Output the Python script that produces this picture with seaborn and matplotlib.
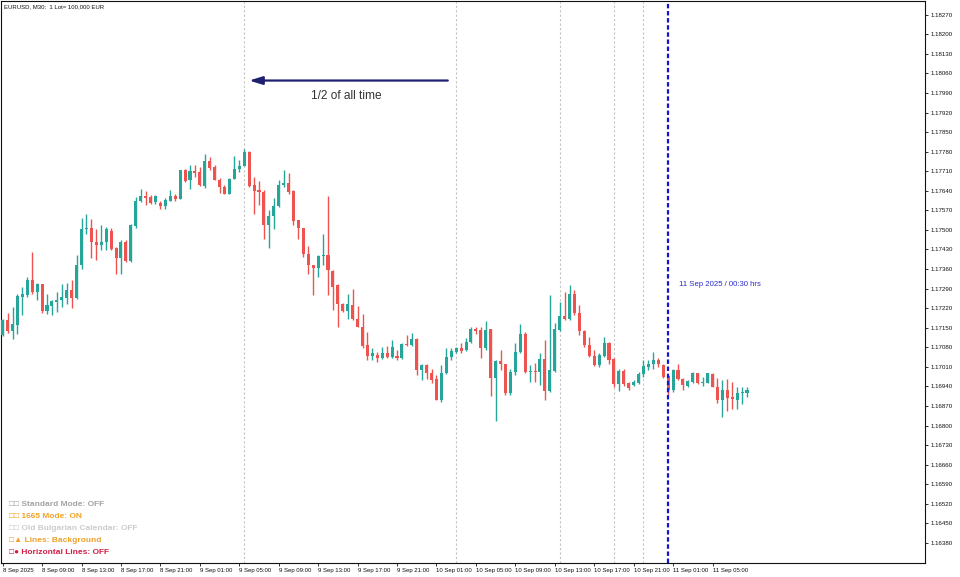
import matplotlib
matplotlib.use("Agg")
import matplotlib.pyplot as plt
import matplotlib.transforms as mtransforms
import numpy as np
import pandas as pd
import seaborn as sns

# EURUSD M30 candles, 8 Sep 05:00 -> 11 Sep 08:30
opens = [
    1.17123, 1.17179, 1.17139, 1.17161, 1.17260, 1.17266, 1.17320, 1.17278, 1.17305, 1.17209,
    1.17228, 1.17242, 1.17249, 1.17258, 1.17284, 1.17256, 1.17373, 1.17504, 1.17508, 1.17457,
    1.17445, 1.17457, 1.17496, 1.17437, 1.17398, 1.17457, 1.17389, 1.17514, 1.17603, 1.17620,
    1.17618, 1.17599, 1.17597, 1.17585, 1.17603, 1.17620, 1.17612, 1.17713, 1.17679, 1.17709,
    1.17707, 1.17657, 1.17746, 1.17725, 1.17679, 1.17653, 1.17629, 1.17683, 1.17719, 1.17728,
    1.17778, 1.17659, 1.17641, 1.17635, 1.17519, 1.17549, 1.17584, 1.17662, 1.17668, 1.17638,
    1.17534, 1.17507, 1.17413, 1.17375, 1.17364, 1.17407, 1.17412, 1.17353, 1.17302, 1.17236,
    1.17210, 1.17233, 1.17180, 1.17154, 1.17087, 1.17048, 1.17054, 1.17042, 1.17058, 1.17046,
    1.17049, 1.17042, 1.17091, 1.17087, 1.17111, 1.17000, 1.17016, 1.16989, 1.16965, 1.16893,
    1.16987, 1.17046, 1.17063, 1.17076, 1.17070, 1.17100, 1.17144, 1.17141, 1.17076, 1.17144,
    1.16969, 1.17030, 1.17019, 1.16915, 1.16990, 1.17063, 1.17127, 1.16990, 1.16996, 1.16990,
    1.17037, 1.16925, 1.16996, 1.17141, 1.17191, 1.17183, 1.17270, 1.17201, 1.17139, 1.17088,
    1.17049, 1.17016, 1.17050, 1.17097, 1.17037, 1.16948, 1.16996, 1.16952, 1.16945, 1.16952,
    1.16984, 1.17010, 1.17022, 1.17034, 1.17016, 1.16977, 1.16929, 1.17000, 1.16967, 1.16941,
    1.16957, 1.16987, 1.16951, 1.16952, 1.16984, 1.16939, 1.16891, 1.16929, 1.16901, 1.16893,
    1.16915, 1.16915,
]
highs = [
    1.17183, 1.17201, 1.17225, 1.17270, 1.17296, 1.17332, 1.17421, 1.17311, 1.17308, 1.17272,
    1.17251, 1.17278, 1.17305, 1.17311, 1.17322, 1.17411, 1.17541, 1.17556, 1.17539, 1.17504,
    1.17516, 1.17510, 1.17508, 1.17439, 1.17463, 1.17463, 1.17520, 1.17618, 1.17647, 1.17639,
    1.17624, 1.17624, 1.17603, 1.17615, 1.17644, 1.17629, 1.17715, 1.17719, 1.17733, 1.17734,
    1.17725, 1.17770, 1.17760, 1.17734, 1.17687, 1.17662, 1.17687, 1.17766, 1.17749, 1.17790,
    1.17782, 1.17691, 1.17675, 1.17641, 1.17572, 1.17614, 1.17679, 1.17715, 1.17705, 1.17641,
    1.17537, 1.17508, 1.17442, 1.17375, 1.17411, 1.17486, 1.17620, 1.17358, 1.17305, 1.17239,
    1.17272, 1.17290, 1.17227, 1.17198, 1.17136, 1.17076, 1.17064, 1.17082, 1.17084, 1.17105,
    1.17070, 1.17096, 1.17123, 1.17132, 1.17114, 1.17022, 1.17022, 1.17004, 1.16981, 1.17016,
    1.17076, 1.17076, 1.17082, 1.17094, 1.17112, 1.17153, 1.17153, 1.17153, 1.17175, 1.17147,
    1.17034, 1.17070, 1.17022, 1.17004, 1.17094, 1.17165, 1.17135, 1.17016, 1.17025, 1.17058,
    1.17106, 1.17266, 1.17168, 1.17243, 1.17278, 1.17302, 1.17284, 1.17231, 1.17141, 1.17117,
    1.17070, 1.17058, 1.17117, 1.17100, 1.17040, 1.17004, 1.17004, 1.16957, 1.16962, 1.16992,
    1.17034, 1.17034, 1.17063, 1.17040, 1.17022, 1.16981, 1.17004, 1.17020, 1.16972, 1.16962,
    1.16992, 1.16989, 1.16974, 1.16989, 1.16987, 1.16969, 1.16962, 1.16965, 1.16957, 1.16939,
    1.16939, 1.16937,
]
lows = [
    1.17120, 1.17132, 1.17108, 1.17129, 1.17195, 1.17260, 1.17270, 1.17251, 1.17201, 1.17198,
    1.17195, 1.17207, 1.17225, 1.17236, 1.17220, 1.17253, 1.17361, 1.17486, 1.17398, 1.17391,
    1.17427, 1.17429, 1.17427, 1.17344, 1.17344, 1.17385, 1.17385, 1.17508, 1.17600, 1.17588,
    1.17591, 1.17594, 1.17576, 1.17574, 1.17602, 1.17603, 1.17609, 1.17671, 1.17647, 1.17689,
    1.17657, 1.17651, 1.17713, 1.17677, 1.17632, 1.17627, 1.17627, 1.17681, 1.17707, 1.17727,
    1.17653, 1.17556, 1.17588, 1.17469, 1.17437, 1.17504, 1.17582, 1.17653, 1.17629, 1.17516,
    1.17469, 1.17403, 1.17344, 1.17266, 1.17332, 1.17373, 1.17266, 1.17215, 1.17153, 1.17208,
    1.17183, 1.17176, 1.17153, 1.17076, 1.17034, 1.17034, 1.17028, 1.17039, 1.17042, 1.17042,
    1.17034, 1.17039, 1.17085, 1.17084, 1.16980, 1.16962, 1.16965, 1.16951, 1.16891, 1.16885,
    1.16983, 1.17034, 1.17060, 1.17060, 1.17067, 1.17096, 1.17129, 1.17040, 1.17070, 1.16906,
    1.16817, 1.16998, 1.16909, 1.16909, 1.16981, 1.17060, 1.16987, 1.16957, 1.16957, 1.16945,
    1.16891, 1.16920, 1.16992, 1.17139, 1.17177, 1.17179, 1.17195, 1.17124, 1.17082, 1.17046,
    1.17012, 1.17010, 1.17046, 1.17022, 1.16939, 1.16925, 1.16941, 1.16929, 1.16941, 1.16948,
    1.16974, 1.17000, 1.17004, 1.17010, 1.16969, 1.16909, 1.16920, 1.16962, 1.16927, 1.16939,
    1.16951, 1.16948, 1.16941, 1.16951, 1.16937, 1.16882, 1.16829, 1.16853, 1.16861, 1.16858,
    1.16879, 1.16903,
]
closes = [
    1.17179, 1.17139, 1.17163, 1.17264, 1.17271, 1.17320, 1.17278, 1.17305, 1.17209, 1.17231,
    1.17244, 1.17249, 1.17260, 1.17284, 1.17256, 1.17375, 1.17504, 1.17508, 1.17457, 1.17447,
    1.17457, 1.17504, 1.17433, 1.17398, 1.17457, 1.17389, 1.17516, 1.17603, 1.17620, 1.17615,
    1.17596, 1.17620, 1.17585, 1.17606, 1.17620, 1.17612, 1.17713, 1.17675, 1.17709, 1.17705,
    1.17659, 1.17745, 1.17722, 1.17679, 1.17653, 1.17629, 1.17683, 1.17719, 1.17729, 1.17778,
    1.17657, 1.17639, 1.17635, 1.17519, 1.17549, 1.17584, 1.17659, 1.17668, 1.17635, 1.17532,
    1.17507, 1.17413, 1.17375, 1.17364, 1.17405, 1.17412, 1.17356, 1.17296, 1.17236, 1.17210,
    1.17234, 1.17180, 1.17154, 1.17084, 1.17048, 1.17058, 1.17042, 1.17058, 1.17046, 1.17082,
    1.17042, 1.17091, 1.17087, 1.17111, 1.16998, 1.17016, 1.16989, 1.16962, 1.16893, 1.16987,
    1.17046, 1.17066, 1.17076, 1.17067, 1.17100, 1.17144, 1.17139, 1.17076, 1.17141, 1.16971,
    1.17030, 1.17022, 1.16915, 1.16992, 1.17063, 1.17127, 1.16990, 1.16996, 1.16990, 1.17037,
    1.16925, 1.16998, 1.17144, 1.17191, 1.17183, 1.17270, 1.17201, 1.17138, 1.17087, 1.17049,
    1.17016, 1.17052, 1.17097, 1.17036, 1.16948, 1.16996, 1.16948, 1.16935, 1.16957, 1.16984,
    1.17012, 1.17022, 1.17034, 1.17020, 1.16974, 1.16929, 1.17000, 1.16966, 1.16945, 1.16960,
    1.16989, 1.16951, 1.16957, 1.16987, 1.16939, 1.16891, 1.16929, 1.16897, 1.16895, 1.16917,
    1.16921, 1.16929,
]

# time axis labels, one every 8 bars (4 hours)
time_labels = [
    "8 Sep 2025", "8 Sep 09:00", "8 Sep 13:00", "8 Sep 17:00", "8 Sep 21:00",
    "9 Sep 01:00", "9 Sep 05:00", "9 Sep 09:00", "9 Sep 13:00", "9 Sep 17:00", "9 Sep 21:00",
    "10 Sep 01:00", "10 Sep 05:00", "10 Sep 09:00", "10 Sep 13:00", "10 Sep 17:00", "10 Sep 21:00",
    "11 Sep 01:00", "11 Sep 05:00",
]
label_step = 8

# price axis
price_ticks = np.round(np.arange(1.16380, 1.18271, 0.0007), 5)

# vertical time lines (bar numbers)
gray_lines = [50, 93, 114, 125, 131]
blue_line = 136

mode_lines = [
    ("\u25a1\u25a1 Standard Mode: OFF", "#a3a3a3"),
    ("\u25a1\u25a1 1665 Mode: ON", "#f2a32a"),
    ("\u25a1\u25a1 Old Bulgarian Calendar: OFF", "#cccccc"),
    ("\u25a1\u25b2 Lines: Background", "#efa12b"),
    ("\u25a1\u25cf Horizontal Lines: OFF", "#d21f45"),
]

df = pd.DataFrame({"open": opens, "high": highs, "low": lows, "close": closes})
df["bar"] = np.arange(1, len(df) + 1)
df["up"] = df["close"] >= df["open"]

GREEN = "#26a69a"
RED = "#ef5350"

sns.set_theme(style="white")
plt.rcParams["font.family"] = ["Liberation Sans", "DejaVu Sans"]

fig = plt.figure(figsize=(9.6, 5.77), dpi=100)
ax = fig.add_axes([0.001, 0.0243, 0.9625, 0.9745])

colors = np.where(df["up"], GREEN, RED)

# wicks
ax.vlines(df["bar"], df["low"], df["high"], colors=colors, lw=1.0, zorder=3)
# bodies
body_bottom = df[["open", "close"]].min(axis=1)
body_height = (df["close"] - df["open"]).abs().clip(lower=0.00004)
ax.bar(df["bar"], body_height, bottom=body_bottom, width=0.62, color=colors,
       linewidth=0, zorder=4)

# time lines
for b in gray_lines:
    ax.axvline(b, color="#c4c4c4", lw=0.8, ls=(0, (2, 2)), zorder=1)
ax.axvline(blue_line, color="#1414d2", lw=1.6, ls=(0, (2, 1.2)), zorder=5)

trans = mtransforms.blended_transform_factory(ax.transData, ax.transAxes)

# arrow between the first two time lines
arrow_head = gray_lines[0] + 1
arrow_tail = gray_lines[1] - 1.7
ax.annotate("", xy=(arrow_head, 0.858), xytext=(arrow_tail, 0.858),
            xycoords=trans, textcoords=trans,
            arrowprops=dict(arrowstyle="-|>,head_length=0.65,head_width=0.2",
                            color="#202070", lw=1.6, shrinkA=0, shrinkB=0))
ax.text((arrow_head + arrow_tail) / 2 - 0.5, 0.830, "1/2 of all time",
        transform=trans, ha="center", va="center", fontsize=8.6, color="#333333")

ax.text(blue_line + 2.3, 0.4956, "11 Sep 2025 / 00:30 hrs", transform=trans,
        ha="left", va="center", fontsize=5.6, color="#2a2ad0")

ax.text(0.003, 0.989, "EURUSD, M30:  1 Lot= 100,000 EUR", transform=ax.transAxes,
        ha="left", va="center", fontsize=4.3, color="#111111")

for k, (txt, col) in enumerate(mode_lines):
    ax.text(0.0086, 0.1048 - k * 0.0217, txt, transform=ax.transAxes,
            ha="left", va="center", fontsize=6, fontweight="bold", color=col)

# axes
ax.set_xlim(0.655, 188.1)
ax.set_ylim(1.163085, 1.18320)

ax.yaxis.tick_right()
ax.set_yticks(price_ticks)
ax.set_yticklabels([f"{p:.5f}" for p in price_ticks])

xt = np.arange(1, len(df) + 1, label_step)[:len(time_labels)]
ax.set_xticks(xt)
ax.set_xticklabels(time_labels, ha="left")

ax.tick_params(axis="y", which="both", right=True, left=False, direction="out",
               length=2.5, width=0.6, pad=1.5, labelsize=4.4, colors="#111111")
ax.tick_params(axis="x", bottom=True, direction="out", length=2.5, width=0.6,
               pad=1.0, labelsize=4.3, colors="#111111")
for lab in ax.get_xticklabels():
    lab.set_horizontalalignment("left")

for s in ax.spines.values():
    s.set_visible(True)
    s.set_color("#111111")
    s.set_linewidth(0.8)
ax.grid(False)
ax.set_facecolor("white")
fig.patch.set_facecolor("white")

fig.savefig("out.png", dpi=100)
